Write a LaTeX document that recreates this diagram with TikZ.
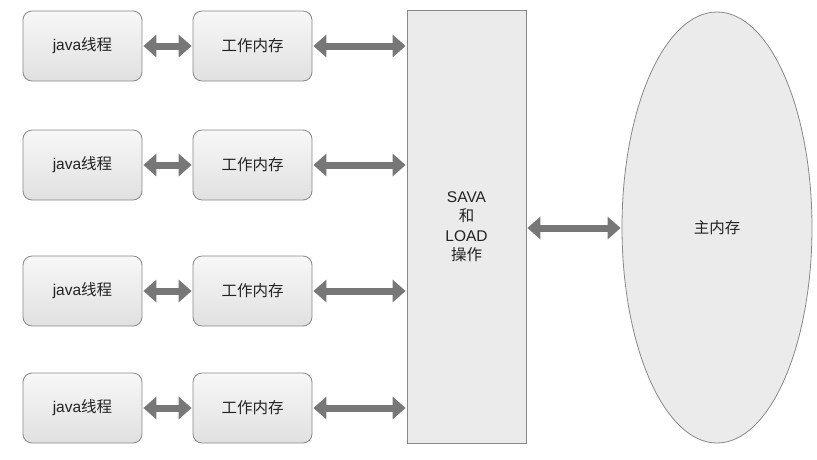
\documentclass[tikz,border=0pt]{standalone}
\usepackage{fontspec}
\setmainfont{Liberation Sans}
\newfontfamily\cjk{Noto Sans CJK SC}
\usetikzlibrary{arrows.meta,shapes.geometric,calc}
\definecolor{edge}{HTML}{888888}
\definecolor{arr}{HTML}{777777}
\definecolor{txt}{HTML}{222222}
\begin{document}
\begin{tikzpicture}[x=1pt,y=-1pt,
  box/.style={draw=edge, line width=0.8pt, rounded corners=9pt, minimum width=119pt, minimum height=70pt,
    top color=white!97!black, bottom color=white!88!black, text=txt, font=\fontsize{15.5}{18}\selectfont, inner sep=0pt},
  bigbox/.style={draw=edge, line width=0.8pt, fill=white!92!black, minimum width=119pt, minimum height=433pt,
    text=txt, font=\fontsize{15.5}{19.5}\selectfont, align=center, inner sep=0pt},
  memell/.style={ellipse, draw=edge, line width=0.8pt, fill=white!92!black, minimum width=190pt, minimum height=431pt,
    text=txt, font=\fontsize{15.5}{18}\selectfont, inner sep=0pt},
  dbl/.style={draw=arr, line width=7pt, {Triangle[length=13pt,width=22pt]}-{Triangle[length=13pt,width=22pt]}, shorten <=1pt, shorten >=1pt}
]
\useasboundingbox (0,0) rectangle (817,459);
\foreach \i/\y in {1/46,2/165,3/291,4/408}{
  \node[box] (j\i) at (82.5,\y) {java{\cjk 线程}};
  \node[box] (w\i) at (252.5,\y) {\cjk 工作内存};
}
\node[bigbox] (big) at (466.5,226.5) {SAVA\\{\cjk 和}\\LOAD\\{\cjk 操作}};
\node[memell] (mem) at (717,227.5) {\cjk 主内存};
\foreach \i in {1,2,3,4}{
  \draw[dbl] (j\i.east) -- (w\i.west);
  \draw[dbl] (w\i.east) -- (big.west |- w\i.east);
}
\draw[dbl] (big.east |- 0,228) -- (mem.west |- 0,228);
\end{tikzpicture}
\end{document}
